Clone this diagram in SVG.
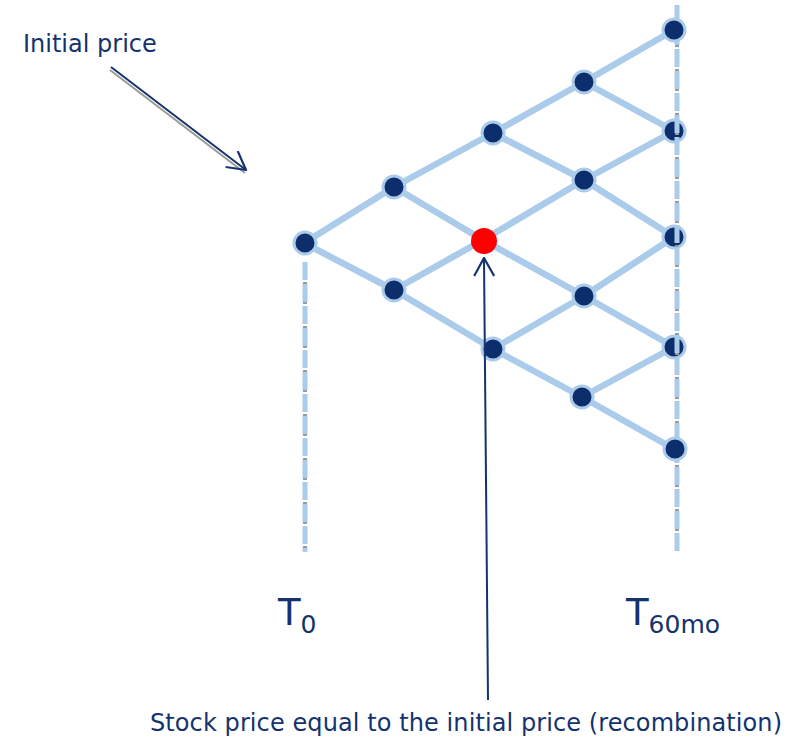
<svg xmlns="http://www.w3.org/2000/svg" width="794" height="738" viewBox="0 0 794 738">
<style>
.edge{stroke:#abcbeb;stroke-width:6.5;stroke-linecap:round;fill:none}
.node{fill:#0d2e6c;stroke:#abcbeb;stroke-width:3}
.vbase{stroke:#9a9a9a;stroke-width:4;fill:none;stroke-dasharray:2 2}
.vline{stroke:#abcbeb;stroke-width:5;fill:none;stroke-dasharray:18 4}
.lbl{font-family:"DejaVu Sans",Verdana,sans-serif;fill:#14336e}
.arr{stroke:#14336e;stroke-width:2;fill:none}
.sh{stroke:#9a9a9a;stroke-width:2;fill:none}
</style>
<defs>
<marker id="open" viewBox="0 0 20 22" refX="19" refY="11" markerWidth="20" markerHeight="22" markerUnits="userSpaceOnUse" orient="auto">
<path d="M1,1 L19,11 L1,21" fill="none" stroke="#14336e" stroke-width="2.2"/>
</marker>
</defs>
<g id="connectors">
<line class="vbase" x1="305" y1="262" x2="305" y2="552"/>
<line class="vline" x1="305" y1="262" x2="305" y2="552"/>
<line class="edge" x1="304" y1="243" x2="394" y2="187"/>
<line class="edge" x1="394" y1="187" x2="493" y2="133"/>
<line class="edge" x1="493" y1="133" x2="584" y2="82"/>
<line class="edge" x1="584" y1="82" x2="674" y2="30"/>
<line class="edge" x1="304" y1="243" x2="394" y2="290"/>
<line class="edge" x1="394" y1="290" x2="493" y2="349"/>
<line class="edge" x1="493" y1="349" x2="582" y2="397"/>
<line class="edge" x1="582" y1="397" x2="674" y2="449"/>
<line class="edge" x1="394" y1="187" x2="483" y2="240"/>
<line class="edge" x1="483" y1="240" x2="584" y2="296"/>
<line class="edge" x1="584" y1="296" x2="674" y2="347"/>
<line class="edge" x1="493" y1="133" x2="584" y2="180"/>
<line class="edge" x1="584" y1="180" x2="674" y2="237"/>
<line class="edge" x1="584" y1="82" x2="674" y2="131"/>
<line class="edge" x1="394" y1="290" x2="483" y2="240"/>
<line class="edge" x1="483" y1="240" x2="584" y2="180"/>
<line class="edge" x1="584" y1="180" x2="674" y2="131"/>
<line class="edge" x1="493" y1="349" x2="584" y2="296"/>
<line class="edge" x1="584" y1="296" x2="674" y2="237"/>
<line class="edge" x1="582" y1="397" x2="674" y2="347"/>
</g>
<g id="n0"><circle class="node" cx="305" cy="243" r="11"/></g>
<g id="n1a"><circle class="node" cx="394" cy="187" r="11"/></g>
<g id="n1b"><circle class="node" cx="394" cy="290" r="11"/></g>
<g id="n2a"><circle class="node" cx="493" cy="133" r="11"/></g>
<g id="n2b"><circle cx="484" cy="241" r="13" fill="#ff0000"/></g>
<g id="n2c"><circle class="node" cx="493" cy="349" r="11"/></g>
<g id="n3a"><circle class="node" cx="584" cy="82" r="11"/></g>
<g id="n3b"><circle class="node" cx="584" cy="180" r="11"/></g>
<g id="n3c"><circle class="node" cx="584" cy="296" r="11"/></g>
<g id="n3d"><circle class="node" cx="582" cy="397" r="11"/></g>
<g id="n4b"><circle class="node" cx="674" cy="131" r="11"/></g>
<g id="n4c"><circle class="node" cx="674" cy="237" r="11"/></g>
<g id="n4d"><circle class="node" cx="674" cy="347" r="11"/></g>
<g id="rightline">
<line class="vbase" x1="677" y1="5" x2="677" y2="552"/>
<line class="vline" x1="677" y1="5" x2="677" y2="552"/>
</g>
<g id="n4a"><circle class="node" cx="674" cy="30" r="11"/></g>
<g id="n4e"><circle class="node" cx="675" cy="449" r="11"/></g>
<g id="arrows">
<line class="sh" x1="110" y1="70" x2="245" y2="173"/>
<line class="arr" x1="111" y1="67" x2="246" y2="170" marker-end="url(#open)"/>
<line class="arr" x1="488" y1="700" x2="484" y2="258" marker-end="url(#open)"/>
</g>
<g id="labels">
<text class="lbl" x="23" y="52" font-size="24">Initial price</text>
<text class="lbl" x="278" y="625" font-size="37">T<tspan font-size="25" dy="8">0</tspan></text>
<text class="lbl" x="626" y="625" font-size="37">T<tspan font-size="25" dy="8">60mo</tspan></text>
<text class="lbl" x="150" y="731" font-size="24" textLength="632" lengthAdjust="spacing">Stock price equal to the initial price (recombination)</text>
</g>
</svg>
